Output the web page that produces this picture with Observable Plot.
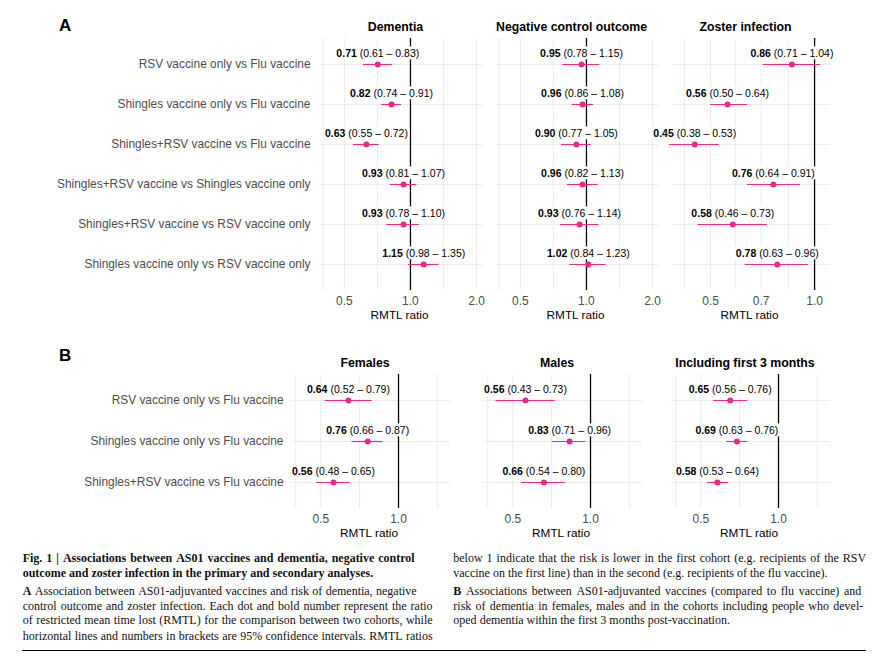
<!DOCTYPE html>
<html><head><meta charset="utf-8">
<script src="https://cdn.jsdelivr.net/npm/d3@7"></script>
<script src="https://cdn.jsdelivr.net/npm/@observablehq/plot@0.6"></script>
<style>
body{margin:0;background:#fff;}
#page{position:relative;width:883px;height:658px;overflow:hidden;background:#fff;font-family:"Liberation Sans",Arial,sans-serif;}
#page svg{position:absolute;left:0;}
.letter{position:absolute;font-weight:bold;font-size:17px;color:#000;line-height:20px;}
.cap{position:absolute;font-family:"Liberation Serif","Times New Roman",serif;font-size:12px;line-height:15px;white-space:nowrap;color:#111;}
.rule{position:absolute;left:22px;top:650px;width:844px;border-top:1.3px solid #000;}
</style></head><body><div id="page"></div>
<script>
// ---------- data ----------
const comparisonsA = [
  "RSV vaccine only vs Flu vaccine",
  "Shingles vaccine only vs Flu vaccine",
  "Shingles+RSV vaccine vs Flu vaccine",
  "Shingles+RSV vaccine vs Shingles vaccine only",
  "Shingles+RSV vaccine vs RSV vaccine only",
  "Shingles vaccine only vs RSV vaccine only"
];
const dementiaEst = [0.71, 0.82, 0.63, 0.93, 0.93, 1.15];
const dementiaLo  = [0.61, 0.74, 0.55, 0.81, 0.78, 0.98];
const dementiaHi  = [0.83, 0.91, 0.72, 1.07, 1.10, 1.35];
const negctrlEst  = [0.95, 0.96, 0.90, 0.96, 0.93, 1.02];
const negctrlLo   = [0.78, 0.86, 0.77, 0.82, 0.76, 0.84];
const negctrlHi   = [1.15, 1.08, 1.05, 1.13, 1.14, 1.23];
const zosterEst   = [0.86, 0.56, 0.45, 0.76, 0.58, 0.78];
const zosterLo    = [0.71, 0.50, 0.38, 0.64, 0.46, 0.63];
const zosterHi    = [1.04, 0.64, 0.53, 0.91, 0.73, 0.96];

const comparisonsB = [
  "RSV vaccine only vs Flu vaccine",
  "Shingles vaccine only vs Flu vaccine",
  "Shingles+RSV vaccine vs Flu vaccine"
];
const femalesEst = [0.64, 0.76, 0.56];
const femalesLo  = [0.52, 0.66, 0.48];
const femalesHi  = [0.79, 0.87, 0.65];
const malesEst   = [0.56, 0.83, 0.66];
const malesLo    = [0.43, 0.71, 0.54];
const malesHi    = [0.73, 0.96, 0.80];
const first3Est  = [0.65, 0.69, 0.58];
const first3Lo   = [0.56, 0.63, 0.53];
const first3Hi   = [0.76, 0.76, 0.64];

const ticksWide   = [0.5, 1, 2];
const ticksZoster = [0.5, 0.7, 1];
const ticksB      = [0.5, 1];
const gridWide    = [0.4, 0.5, 0.707, 1.414, 2];
const gridZoster  = [0.42, 0.5, 0.59, 0.7, 0.84];
const gridB       = [0.4, 0.5, 0.707, 1.414];

// ---------- drawing ----------
const PINK = "#E7298A";
const W = 883;
const page = document.getElementById("page");
const fmt2 = d3.format(".2f");

function rowsOf(comps, est, lo, hi) {
  return comps.map((c, i) => ({comp: c, est: est[i], lo: lo[i], hi: hi[i],
    label: `${fmt2(est[i])} (${fmt2(lo[i])} – ${fmt2(hi[i])})`}));
}

function panel(cfg) {
  const data = rowsOf(cfg.comps, cfg.est, cfg.lo, cfg.hi);
  const marks = [
    Plot.ruleY(cfg.comps, {stroke: "#ebebeb", strokeWidth: 1}),
    Plot.ruleX(cfg.grid, {stroke: "#ebebeb", strokeWidth: 1}),
    Plot.ruleX([1], {stroke: "#000", strokeWidth: 1.3}),
    Plot.axisX({ticks: cfg.ticks, tickFormat: d3.format(".1f"), tickSize: 0, tickPadding: 6, fontSize: 12, label: null}),
    Plot.text(["RMTL ratio"], {frameAnchor: "bottom", dy: 25, dx: -2, lineAnchor: "middle", fontSize: 11.8, fill: "#000"}),
    Plot.text([cfg.title], {frameAnchor: "top", dy: -11.5, dx: -6, lineAnchor: "middle", fontSize: 12.3, fontWeight: "bold", fill: "#000"}),
    Plot.text(data, {x: "est", y: "comp", text: "label", dy: -11, lineAnchor: "middle", fontSize: 10.5, fill: "#000"}),
    Plot.ruleY(data, {y: "comp", x1: "lo", x2: "hi", stroke: PINK, strokeWidth: 1.2}),
    Plot.dot(data, {x: "est", y: "comp", r: 3, fill: PINK, stroke: "none"})
  ];
  if (cfg.yAxis) marks.unshift(Plot.axisY({tickSize: 0, tickPadding: cfg.yPad, fontSize: 11.9, label: null}));
  const svg = Plot.plot({
    width: W, height: cfg.height,
    marginLeft: cfg.fl, marginRight: W - cfg.fr,
    marginTop: cfg.ft, marginBottom: cfg.height - cfg.fb,
    x: {type: "log", domain: cfg.domain},
    y: {type: "point", domain: cfg.comps, padding: 0.6, axis: cfg.yAxis ? undefined : null},
    style: {background: "transparent", color: "#4d4d4d", fontFamily: "'Liberation Sans', Arial, sans-serif", overflow: "visible"},
    marks
  });
  svg.style.top = cfg.top + "px";
  svg.style.maxWidth = "none";
  page.appendChild(svg);
  // rich labels: bold estimate + plain interval, on a white box
  const ns = "http://www.w3.org/2000/svg";
  svg.querySelectorAll("text").forEach(t => {
    const m = t.textContent.match(/^(\d\.\d\d) (\(.*\))$/);
    if (!m) return;
    t.textContent = "";
    t.setAttribute("style", "white-space:pre");
    const b = document.createElementNS(ns, "tspan");
    b.setAttribute("font-weight", "bold");
    b.textContent = m[1];
    const r = document.createElementNS(ns, "tspan");
    r.textContent = " " + m[2];
    t.append(b, r);
    const bb = t.getBBox();
    const rect = document.createElementNS(ns, "rect");
    rect.setAttribute("x", bb.x - 1.5);
    rect.setAttribute("y", bb.y - 0.5);
    rect.setAttribute("width", bb.width + 3);
    rect.setAttribute("height", bb.height + 1);
    rect.setAttribute("fill", "#fff");
    if (t.getAttribute("transform")) rect.setAttribute("transform", t.getAttribute("transform"));
    t.parentNode.insertBefore(rect, t);
  });
}

const A = {comps: comparisonsA, top: 0, height: 330, ft: 38, fb: 290, yPad: 10};
panel({...A, title: "Dementia", est: dementiaEst, lo: dementiaLo, hi: dementiaHi, fl: 320, fr: 482, domain: [0.389, 2.13], ticks: ticksWide, grid: gridWide, yAxis: true});
panel({...A, title: "Negative control outcome", est: negctrlEst, lo: negctrlLo, hi: negctrlHi, fl: 496, fr: 658, domain: [0.389, 2.13], ticks: ticksWide, grid: gridWide});
panel({...A, title: "Zoster infection", est: zosterEst, lo: zosterLo, hi: zosterHi, fl: 672, fr: 830, domain: [0.388, 1.112], ticks: ticksZoster, grid: gridZoster});

const B = {comps: comparisonsB, top: 330, height: 210, ft: 44, fb: 178, yPad: 8, domain: [0.385, 1.59], ticks: ticksB, grid: gridB};
panel({...B, title: "Females", est: femalesEst, lo: femalesLo, hi: femalesHi, fl: 291, fr: 450, yAxis: true});
panel({...B, title: "Males", est: malesEst, lo: malesLo, hi: malesHi, fl: 483, fr: 642});
panel({...B, title: "Including first 3 months", est: first3Est, lo: first3Lo, hi: first3Hi, fl: 671, fr: 830});

// ---------- panel letters & caption ----------
function addDiv(cls, html, x, y) {
  const d = document.createElement("div");
  d.className = cls;
  d.innerHTML = html;
  d.style.left = x + "px";
  d.style.top = y + "px";
  page.appendChild(d);
  return d;
}
addDiv("letter", "A", 59, 16);
addDiv("letter", "B", 59, 346);

// caption line: [text, justified width (0 = natural), bold whole line, bold first word]
function capLine([text, w, boldAll, boldFirst], x, y) {
  const d = document.createElement("div");
  d.className = "cap";
  d.style.left = x + "px";
  d.style.top = y + "px";
  if (boldAll) d.style.fontWeight = "bold";
  if (w) {
    d.style.display = "flex";
    d.style.justifyContent = "space-between";
    d.style.width = w + "px";
  }
  text.split(" ").forEach((word, i) => {
    const s = document.createElement("span");
    s.textContent = word;
    if (boldFirst && i === 0) s.style.fontWeight = "bold";
    d.appendChild(s);
    if (!w) d.appendChild(document.createTextNode(" "));
  });
  page.appendChild(d);
}
const capLeft = [
  ["Fig. 1 | Associations between AS01 vaccines and dementia, negative control", 392, true, false],
  ["outcome and zoster infection in the primary and secondary analyses.", 0, true, false],
  ["A Association between AS01-adjuvanted vaccines and risk of dementia, negative", 394, false, true],
  ["control outcome and zoster infection. Each dot and bold number represent the ratio", 410, false, false],
  ["of restricted mean time lost (RMTL) for the comparison between two cohorts, while", 410, false, false],
  ["horizontal lines and numbers in brackets are 95% confidence intervals. RMTL ratios", 410, false, false]
];
const capRight = [
  ["below 1 indicate that the risk is lower in the first cohort (e.g. recipients of the RSV", 413, false, false],
  ["vaccine on the first line) than in the second (e.g. recipients of the flu vaccine).", 0, false, false],
  ["B Associations between AS01-adjuvanted vaccines (compared to flu vaccine) and", 408, false, true],
  ["risk of dementia in females, males and in the cohorts including people who devel-", 410, false, false],
  ["oped dementia within the first 3 months post-vaccination.", 0, false, false]
];
const lineY = [558, 573.5, 591, 606, 620.7, 636];
capLeft.forEach((l, i) => capLine(l, 22.7, lineY[i] - 7.5));
capRight.forEach((l, i) => capLine(l, 453.3, lineY[i] - 7.5));
addDiv("rule", "", 22, 650);
</script>
</body></html>
